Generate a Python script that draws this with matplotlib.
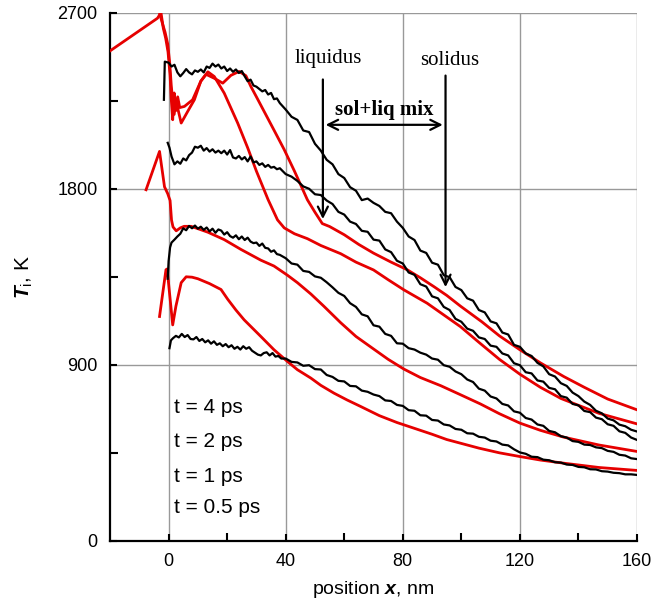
import matplotlib
matplotlib.use("Agg")
import matplotlib.pyplot as plt

plt.rcParams['font.family'] = 'Liberation Sans'
plt.rcParams['mathtext.fontset'] = 'custom'
plt.rcParams['mathtext.rm'] = 'Liberation Sans'
plt.rcParams['mathtext.it'] = 'Liberation Sans:italic'
plt.rcParams['mathtext.bf'] = 'Liberation Sans:bold'
plt.rcParams['mathtext.bfit'] = 'Liberation Sans:italic:bold'

# MD profiles (black), position nm -> temperature K
md_4ps = [(-1.6, 2255), (-1.3, 2450), (0, 2445), (1, 2425), (2, 2434), (3, 2395), (4, 2375), (5, 2392),
          (6, 2412), (7, 2395), (8, 2385), (9, 2405), (10, 2398), (11, 2410), (12, 2395), (13, 2425),
          (14, 2418), (15, 2440), (16, 2425), (17, 2435), (18, 2415), (19, 2425), (20, 2402), (21, 2415),
          (22, 2398), (23, 2410), (24, 2392), (25, 2402), (26, 2375), (27, 2350), (28, 2358), (29, 2328),
          (30, 2322), (31, 2310), (32, 2298), (33, 2305), (34, 2282), (35, 2290), (36, 2258), (37, 2262),
          (38, 2238), (40, 2205), (42, 2168), (44, 2152), (46, 2098), (48, 2090), (50, 2030), (52, 1995),
          (54, 1948), (56, 1925), (58, 1875), (60, 1855), (62, 1808), (64, 1790), (66, 1742), (68, 1750),
          (70, 1728), (72, 1712), (74, 1682), (76, 1675), (78, 1632), (80, 1600), (82, 1556), (84, 1538),
          (86, 1484), (88, 1472), (90, 1422), (92, 1412), (94, 1358), (96, 1348), (98, 1298), (100, 1282),
          (102, 1240), (104, 1228), (106, 1180), (108, 1168), (110, 1122), (112, 1112), (114, 1065),
          (116, 1055), (118, 1002), (120, 992), (122, 958), (124, 945), (126, 910), (128, 892), (130, 852),
          (132, 840), (134, 806), (136, 792), (138, 758), (140, 740), (142, 712), (144, 695), (146, 665),
          (148, 652), (150, 625), (152, 616), (154, 594), (156, 586), (158, 568), (160, 559)]
md_2ps = [(-0.3, 2035), (0.3, 2010), (1, 1965), (2, 1925), (3, 1940), (4, 1928), (5, 1955), (6, 1945),
          (7, 1972), (8, 1985), (9, 2015), (10, 2010), (11, 2020), (12, 1995), (13, 2008), (14, 1990),
          (15, 2002), (16, 1985), (17, 1995), (18, 1982), (19, 1995), (20, 1975), (21, 1998), (22, 1960),
          (23, 1955), (24, 1968), (25, 1950), (26, 1962), (27, 1940), (28, 1965), (29, 1935), (30, 1940),
          (31, 1922), (32, 1930), (33, 1912), (34, 1922), (35, 1908), (36, 1912), (37, 1900), (38, 1905),
          (40, 1875), (42, 1862), (44, 1840), (46, 1812), (48, 1800), (50, 1772), (52, 1768), (54, 1740),
          (56, 1722), (58, 1682), (60, 1668), (62, 1632), (64, 1620), (66, 1585), (68, 1580), (70, 1540),
          (72, 1535), (74, 1490), (76, 1476), (78, 1432), (80, 1418), (82, 1372), (84, 1360), (86, 1312),
          (88, 1300), (90, 1250), (92, 1240), (94, 1196), (96, 1180), (98, 1135), (100, 1120), (102, 1085),
          (104, 1074), (106, 1040), (108, 1032), (110, 998), (112, 992), (114, 958), (116, 948), (118, 908),
          (120, 898), (122, 862), (124, 856), (126, 820), (128, 814), (130, 782), (132, 775), (134, 740),
          (136, 732), (138, 700), (140, 693), (142, 664), (144, 658), (146, 630), (148, 622), (150, 596),
          (152, 588), (154, 560), (156, 552), (158, 528), (160, 516)]
md_1ps = [(-0.3, 1340), (0, 1430), (0.5, 1500), (1, 1525), (2, 1540), (3, 1556), (4, 1570), (5, 1598),
          (6, 1588), (7, 1610), (8, 1598), (9, 1612), (10, 1596), (11, 1606), (12, 1590), (13, 1602),
          (14, 1582), (15, 1596), (16, 1575), (17, 1592), (18, 1586), (19, 1566), (20, 1578), (21, 1558),
          (22, 1550), (23, 1562), (24, 1542), (25, 1556), (26, 1538), (27, 1550), (28, 1530), (29, 1522),
          (30, 1525), (31, 1508), (32, 1520), (33, 1498), (34, 1495), (35, 1478), (36, 1485), (37, 1466),
          (38, 1462), (40, 1445), (42, 1418), (44, 1412), (46, 1380), (48, 1375), (50, 1352), (52, 1345),
          (54, 1322), (56, 1296), (58, 1268), (60, 1252), (62, 1215), (64, 1196), (66, 1158), (68, 1148),
          (70, 1102), (72, 1095), (74, 1058), (76, 1048), (78, 1010), (80, 1008), (82, 985), (84, 978),
          (86, 962), (88, 952), (90, 932), (92, 926), (94, 898), (96, 890), (98, 866), (100, 852), (102, 825),
          (104, 812), (106, 778), (108, 768), (110, 738), (112, 728), (114, 700), (116, 692), (118, 662),
          (120, 655), (122, 628), (124, 620), (126, 595), (128, 588), (130, 562), (132, 555), (134, 535),
          (136, 528), (138, 510), (140, 506), (142, 492), (144, 490), (146, 478), (148, 474), (150, 460),
          (152, 455), (154, 440), (156, 436), (158, 422), (160, 418)]
md_05ps = [(0.3, 985), (0.8, 1025), (1.5, 1036), (2.5, 1048), (3.5, 1040), (4.5, 1058), (5.5, 1042),
           (6.5, 1052), (7.5, 1032), (8.5, 1030), (9.5, 1042), (10.5, 1022), (11.5, 1032), (12.5, 1015),
           (13.5, 1025), (14.5, 1008), (15.5, 1020), (16.5, 1002), (17.5, 1010), (18.5, 995), (19.5, 1006),
           (20.5, 990), (21.5, 1000), (22.5, 982), (23.5, 992), (24.5, 978), (25.5, 995), (26.5, 982),
           (27.5, 990), (28.5, 972), (29.5, 962), (30.5, 952), (31.5, 948), (32.5, 960), (33.5, 964),
           (34.5, 948), (35.5, 960), (36.5, 942), (37.5, 945), (38.5, 932), (40, 932), (42, 915), (44, 912),
           (46, 895), (48, 898), (50, 878), (52, 876), (54, 848), (56, 838), (58, 818), (60, 815), (62, 792),
           (64, 790), (66, 768), (68, 762), (70, 748), (72, 740), (74, 718), (76, 715), (78, 695), (80, 690),
           (82, 668), (84, 665), (86, 642), (88, 640), (90, 618), (92, 615), (94, 595), (96, 590), (98, 572),
           (100, 568), (102, 550), (104, 548), (106, 532), (108, 528), (110, 512), (112, 508), (114, 492),
           (116, 488), (118, 468), (120, 452), (122, 445), (124, 430), (126, 428), (128, 415), (130, 412),
           (132, 402), (134, 400), (136, 390), (138, 388), (140, 378), (142, 376), (144, 366), (146, 365),
           (148, 356), (150, 354), (152, 348), (154, 346), (156, 340), (158, 340), (160, 337)]

# continuum model profiles (red)
tm_4ps = [(-20, 2505), (-3.8, 2672), (-2.6, 2700), (-1.8, 2620), (-1.0, 2570), (-0.2, 2500), (0.5, 2380),
          (0.9, 2260), (1.4, 2153), (1.9, 2290), (2.5, 2200), (3.1, 2270), (3.8, 2215), (5.4, 2221),
          (8.2, 2255), (11, 2350), (12.8, 2385), (15.6, 2365), (18.5, 2340), (21.3, 2380), (24.1, 2400),
          (26.4, 2378), (28.1, 2323), (30, 2270), (33, 2185), (36, 2100), (39.5, 2000), (43, 1890),
          (47.4, 1744), (50, 1680), (52.5, 1622), (55, 1607), (60, 1565), (65, 1515), (70, 1471), (76, 1425),
          (81.5, 1386), (86, 1345), (90.6, 1300), (95, 1255), (99.7, 1200), (107, 1120), (113, 1048),
          (120, 977), (127, 910), (135, 840), (142, 785), (150, 725), (160, 670)]
tm_2ps = [(-3.0, 2692), (-2.0, 2640), (-1.2, 2600), (-0.3, 2540), (0.4, 2440), (0.9, 2330), (1.4, 2250),
          (1.9, 2180), (2.6, 2260), (3.3, 2200), (4.3, 2136), (6.5, 2195), (8.8, 2255), (11, 2350),
          (13.4, 2398), (15.6, 2374), (19, 2289), (23.6, 2136), (27, 2010), (30, 1890), (34, 1744),
          (37.2, 1641), (39.5, 1600), (43, 1570), (47.4, 1545), (52, 1510), (58.8, 1468), (64, 1425),
          (70, 1385), (75, 1335), (80.4, 1283), (88.3, 1215), (94, 1155), (99.7, 1095), (106, 1015),
          (113, 928), (120, 852), (127, 785), (134, 728), (147, 652), (160, 598)]
tm_1ps = [(-7.7, 1795), (-3.1, 1991), (-1.4, 1810), (-0.3, 1775), (0.5, 1740), (1.0, 1640), (1.5, 1605),
          (2.6, 1585), (4, 1600), (5.3, 1608), (7.7, 1608), (10, 1596), (13.4, 1578), (19, 1540),
          (24.7, 1490), (31.5, 1435), (36, 1405), (40.6, 1358), (44, 1320), (48.6, 1262), (53, 1200),
          (58.8, 1115), (64, 1045), (70.1, 980), (75, 928), (80.4, 878), (86, 835), (93, 793), (100, 745),
          (106.5, 700), (113, 650), (120, 602), (127, 565), (135, 530), (147, 490), (160, 457)]
tm_05ps = [(-3.1, 1147), (-0.9, 1386), (-0.5, 1390), (1.4, 1104), (2.5, 1200), (4.3, 1320), (6, 1350),
           (8, 1348), (10, 1340), (14, 1315), (17.9, 1285), (20.2, 1235), (23, 1180), (25.8, 1130),
           (31.5, 1045), (36, 977), (40.6, 917), (44, 875), (48.6, 832), (52, 795), (56.5, 755), (61, 720),
           (65.6, 687), (72, 640), (78, 605), (84, 575), (90, 545), (95, 518), (100, 498), (106, 474),
           (113, 450), (120, 431), (127, 413), (135, 397), (147, 375), (160, 360)]

time_labels = ['t = 4 ps', 't = 2 ps', 't = 1 ps', 't = 0.5 ps']
liquidus_x, solidus_x = 52.7, 94.6

fig = plt.figure(figsize=(6.67, 6.07), dpi=100)
ax = fig.add_axes([0.165, 0.109, 0.79, 0.87])

for prof in [tm_4ps, tm_2ps, tm_1ps, tm_05ps]:
    xs, ts = zip(*prof)
    ax.plot(xs, ts, color='#e60000', lw=2.0, zorder=3)
for prof in [md_4ps, md_2ps, md_1ps, md_05ps]:
    xs, ts = zip(*prof)
    ax.plot(xs, ts, color='black', lw=1.6, zorder=4)

ax.set_xlim(-20, 160)
ax.set_ylim(0, 2700)
ax.set_xticks([0, 40, 80, 120, 160])
ax.set_xticks([20, 60, 100, 140], minor=True)
ax.set_yticks([0, 900, 1800, 2700])
ax.set_yticks([450, 1350, 2250], minor=True)
ax.grid(True, which='major', color='#999999', lw=1.0)
ax.tick_params(which='both', direction='in', labelsize=13, pad=9, width=1.5)
ax.tick_params(which='major', length=5)
ax.tick_params(which='minor', length=6)
for s in ['top', 'right']:
    ax.spines[s].set_visible(False)
for s in ['left', 'bottom']:
    ax.spines[s].set_linewidth(1.6)

ax.set_xlabel(r'position $\mathbfit{x}$, nm', fontsize=14, labelpad=6)
ax.set_ylabel(r'$\mathbfit{T}_\mathrm{i}$, K', fontsize=15, labelpad=16)

for lab, ty in zip(time_labels, [680, 508, 329, 169]):
    ax.text(1.9, ty, lab, fontsize=15, ha='left', va='center')

serif = 'Liberation Serif'
ax.text(54.4, 2468, 'liquidus', family=serif, fontsize=15, ha='center', va='center')
ax.text(95.9, 2458, 'solidus', family=serif, fontsize=15, ha='center', va='center')
ax.text(73.8, 2204, 'sol+liq mix', family=serif, fontsize=15, fontweight='bold', ha='center', va='center')

arrow = dict(arrowstyle='->', lw=1.6, color='black', mutation_scale=18)
ax.annotate('', xy=(liquidus_x, 1631), xytext=(liquidus_x, 2373), arrowprops=arrow, zorder=5)
ax.annotate('', xy=(solidus_x, 1283), xytext=(solidus_x, 2393), arrowprops=arrow, zorder=5)
ax.annotate('', xy=(liquidus_x, 2127), xytext=(solidus_x, 2127),
            arrowprops=dict(arrowstyle='<->', lw=1.6, color='black', mutation_scale=18), zorder=5)

fig.savefig('out.png', dpi=100)
